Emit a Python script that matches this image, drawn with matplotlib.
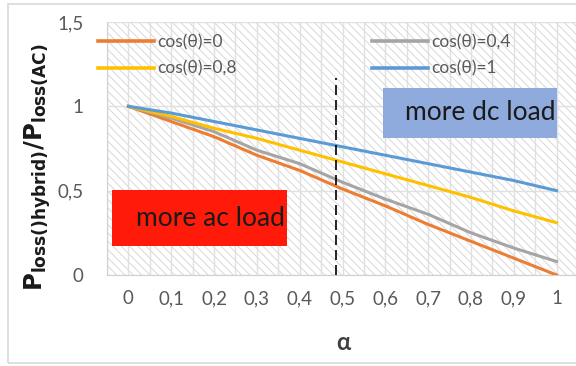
import matplotlib
matplotlib.use("Agg")
import matplotlib.pyplot as plt
from matplotlib.patches import Rectangle
from matplotlib.lines import Line2D

plt.rcParams['font.family'] = ['Lato', 'DejaVu Sans']
plt.rcParams['hatch.linewidth'] = 0.6

# data
alpha = [0, 0.1, 0.2, 0.3, 0.4, 0.5, 0.6, 0.7, 0.8, 0.9, 1.0]
alpha_labels = ["0", "0,1", "0,2", "0,3", "0,4", "0,5", "0,6", "0,7", "0,8", "0,9", "1"]
loss_cos0 = [1.0, 0.91, 0.82, 0.71, 0.62, 0.51, 0.41, 0.30, 0.20, 0.10, 0.0]
loss_cos04 = [1.0, 0.93, 0.85, 0.74, 0.66, 0.55, 0.45, 0.36, 0.25, 0.16, 0.08]
loss_cos08 = [1.0, 0.94, 0.87, 0.81, 0.74, 0.67, 0.60, 0.53, 0.46, 0.38, 0.31]
loss_cos1 = [1.0, 0.96, 0.91, 0.86, 0.81, 0.76, 0.71, 0.66, 0.61, 0.56, 0.50]
y_ticks = [0, 0.5, 1.0, 1.5]
y_labels = ["0", "0,5", "1", "1,5"]
alpha_split = 0.484

W, H = 576, 366
fig = plt.figure(figsize=(W / 100, H / 100), dpi=100)
ax = fig.add_axes([107 / W, 1 - 275 / H, 471 / W, 253 / H])

# hatched plot area
ax.add_patch(Rectangle((0, 0), 1, 1, transform=ax.transAxes, facecolor='white',
                       edgecolor='#d2d2d2', hatch='\\\\\\\\', linewidth=0, zorder=0))

ax.plot(alpha, loss_cos0, color='#ED7D31', lw=2.2, zorder=3)
ax.plot(alpha, loss_cos04, color='#A5A5A5', lw=2.2, zorder=3)
ax.plot(alpha, loss_cos08, color='#FFC000', lw=2.2, zorder=3)
ax.plot(alpha, loss_cos1, color='#5B9BD5', lw=2.2, zorder=3)

ax.axvline(alpha_split, ymin=0, ymax=1.17 / 1.5, color='black', lw=1.2,
           linestyle=(0, (6, 3)), zorder=4)

ax.set_xlim(-0.05, 1.05)
ax.set_ylim(0, 1.5)
ax.set_xticks(alpha)
ax.set_xticklabels(alpha_labels)
ax.set_xticks([a + 0.05 for a in alpha[:-1]] + [-0.05], minor=True)
ax.set_yticks(y_ticks)
ax.set_yticklabels(y_labels)
ax.tick_params(length=0, which='both', colors='#595959', labelsize=13.5)
ax.tick_params(axis='y', pad=17)
ax.tick_params(axis='x', pad=11)
ax.grid(True, which='both', color='#e0e0e0', lw=1, zorder=1)
ax.set_axisbelow(True)
for s in ['top', 'right']:
    ax.spines[s].set_visible(False)
for s in ['left', 'bottom']:
    ax.spines[s].set_color('#d0d0d0')

# legend in two columns
handles = [Line2D([], [], color='#ED7D31', lw=2.6),
           Line2D([], [], color='#FFC000', lw=2.6),
           Line2D([], [], color='#A5A5A5', lw=2.6),
           Line2D([], [], color='#5B9BD5', lw=2.6)]
labels = ["cos(θ)=0", "cos(θ)=0,8", "cos(θ)=0,4", "cos(θ)=1"]
leg = ax.legend(handles, labels, ncol=2, loc='upper left',
                bbox_to_anchor=(98 / W, 1 - 34 / H), bbox_transform=fig.transFigure,
                frameon=False, fontsize=12.5, handlelength=3.2, handletextpad=0.2,
                columnspacing=7.8, labelspacing=0.6, borderpad=0, borderaxespad=0)
for t in leg.get_texts():
    t.set_color('#595959')

# annotation boxes
fig.patches.append(Rectangle((112 / W, 1 - 246 / H), 175 / W, 56 / H,
                             transform=fig.transFigure, facecolor='#FF1A0A',
                             edgecolor='none', zorder=5))
fig.text(210 / W, 1 - 218 / H, "more ac load", ha='center', va='center',
         fontsize=19, color='#1a1a1a', zorder=6)
fig.patches.append(Rectangle((383 / W, 1 - 138 / H), 174 / W, 50 / H,
                             transform=fig.transFigure, facecolor='#8FAADC',
                             edgecolor='none', zorder=5))
fig.text(480 / W, 1 - 113 / H, "more dc load", ha='center', va='center',
         fontsize=19, color='#1a1a1a', zorder=6)

# axis labels
fig.text(38 / W, 1 - 167 / H, r'$\mathbf{P_{loss()hybrid)}/P_{loss(AC)}}$',
         rotation=90, ha='center', va='center', fontsize=17.5, color='#1a1a1a')
fig.text(343 / W, 1 - 343 / H, "α", ha='center', va='center', fontsize=17,
         fontweight='bold', color='#404040')

# chart border
fig.patches.append(Rectangle((8 / W, 1 - 363 / H), 575 / W, 359 / H,
                             transform=fig.transFigure, facecolor='none',
                             edgecolor='#d9d9d9', lw=1.2))

fig.savefig("out.png", dpi=100)
